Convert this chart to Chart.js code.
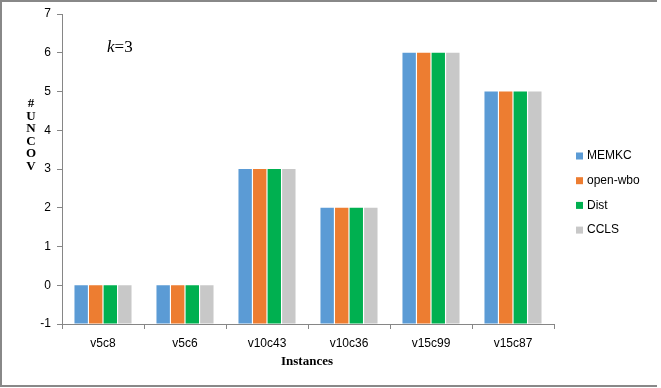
<!DOCTYPE html>
<html>
<head>
<meta charset="utf-8">
<script src="https://cdn.jsdelivr.net/npm/chart.js@4/dist/chart.umd.min.js"></script>
<style>
  html, body { margin: 0; padding: 0; background: #fff; }
  #wrap { width: 661px; height: 388px; position: relative; }
</style>
</head>
<body>
<div id="wrap"><canvas id="uncovChart" width="661" height="388"></canvas></div>
<script>
const instances = ['v5c8', 'v5c6', 'v10c43', 'v10c36', 'v15c99', 'v15c87'];
const memkc = [0, 0, 3, 2, 6, 5];
const openWbo = [0, 0, 3, 2, 6, 5];
const dist = [0, 0, 3, 2, 6, 5];
const ccls = [0, 0, 3, 2, 6, 5];
const yTicks = [-1, 0, 1, 2, 3, 4, 5, 6, 7];

const axisGray = '#868686';
const tickFont = { family: 'Liberation Sans', size: 12 };

// frame, y title, k=3 note and legend drawn around the plot
const decorations = {
    id: 'decorations',
    afterDraw(chart) {
        const ctx = chart.ctx;
        ctx.save();
        ctx.strokeStyle = '#888888';
        ctx.lineWidth = 2;
        ctx.beginPath();
        ctx.moveTo(657, 1);
        ctx.lineTo(1, 1);
        ctx.lineTo(1, 386);
        ctx.lineTo(657, 386);
        ctx.stroke();

        ctx.fillStyle = '#000';
        ctx.textAlign = 'center';
        ctx.textBaseline = 'middle';
        ctx.font = 'bold 13px "Liberation Serif"';
        '#UNCOV'.split('').forEach((ch, i) => ctx.fillText(ch, 31, 104 + i * 12.5));
        ctx.fillText('Instances', 307, 362);

        ctx.textAlign = 'left';
        ctx.font = 'italic 17px "Liberation Serif"';
        ctx.fillText('k', 107, 48);
        const kw = ctx.measureText('k').width;
        ctx.font = '17px "Liberation Serif"';
        ctx.fillText('=3', 107 + kw, 48);

        ctx.font = '12px "Liberation Sans"';
        chart.data.datasets.forEach((ds, i) => {
            const y = 156 + i * 24.7;
            ctx.fillStyle = ds.backgroundColor;
            ctx.fillRect(576, y - 3.5, 7, 7);
            ctx.fillStyle = '#000';
            ctx.fillText(ds.label, 587, y);
        });
        ctx.restore();
    }
};

const ds = (label, data, color) => ({
    label, data, backgroundColor: color, base: -1,
    barPercentage: 0.92, categoryPercentage: 0.71
});

new Chart(document.getElementById('uncovChart').getContext('2d'), {
    type: 'bar',
    data: {
        labels: instances,
        datasets: [
            ds('MEMKC', memkc, '#5B9BD5'),
            ds('open-wbo', openWbo, '#ED7D31'),
            ds('Dist', dist, '#00B050'),
            ds('CCLS', ccls, '#C8C8C8')
        ]
    },
    options: {
        responsive: false,
        animation: false,
        events: [],
        layout: { padding: { top: 14, right: 107, left: 0, bottom: 0 } },
        plugins: { legend: { display: false }, tooltip: { enabled: false } },
        scales: {
            x: {
                grid: { display: true, drawOnChartArea: false, offset: true, color: axisGray, tickLength: 5 },
                border: { color: axisGray, width: 1 },
                ticks: { color: '#000', font: tickFont, padding: 7, maxRotation: 0 },
                afterFit: s => { s.height = 64; }
            },
            y: {
                min: -1, max: 7,
                afterBuildTicks: s => { s.ticks = yTicks.map(v => ({ value: v })); },
                grid: { display: true, drawOnChartArea: false, color: axisGray, tickLength: 5 },
                border: { color: axisGray, width: 1 },
                ticks: { color: '#000', font: tickFont, padding: 6 },
                afterFit: s => { s.width = 62; }
            }
        }
    },
    plugins: [decorations]
});
</script>
</body>
</html>
